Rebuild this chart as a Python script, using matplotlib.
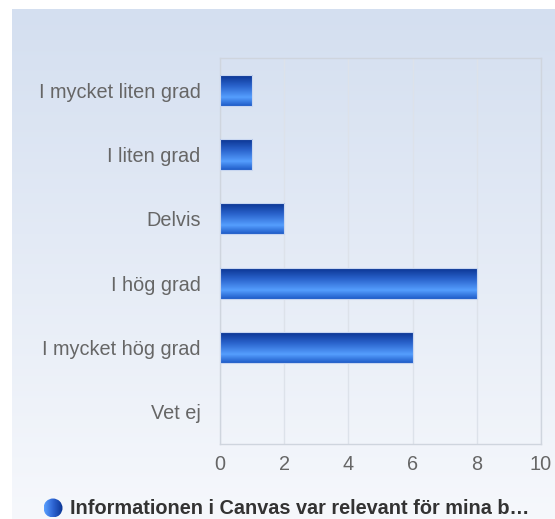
import numpy as np
import matplotlib
matplotlib.use("Agg")
import matplotlib.pyplot as plt
from matplotlib.colors import LinearSegmentedColormap
from matplotlib.patches import Circle

# data
categories = ["I mycket liten grad", "I liten grad", "Delvis", "I hög grad",
              "I mycket hög grad", "Vet ej"]
values = [1, 1, 2, 8, 6, 0]
xticks = [0, 2, 4, 6, 8, 10]
legend_label = "Informationen i Canvas var relevant för mina b…"

plt.rcParams['font.family'] = ['Liberation Sans', 'DejaVu Sans']

W, H = 555, 519
fig = plt.figure(figsize=(W / 100, H / 100), dpi=100)

# background panel with vertical gradient
bg = fig.add_axes([12 / W, 0, 1 - 12 / W, (H - 9) / H])
bg_cmap = LinearSegmentedColormap.from_list("bg", ["#d4dff0", "#f6f8fc"])
bg.imshow(np.linspace(0, 1, 256).reshape(-1, 1), cmap=bg_cmap, aspect="auto",
          extent=[0, 1, 0, 1])
bg.axis("off")

# main plot area
left, right, top, bottom = 220, 541, 58, 444
ax = fig.add_axes([left / W, 1 - bottom / H, (right - left) / W, (bottom - top) / H])
ax.patch.set_alpha(0)

bar_cmap = LinearSegmentedColormap.from_list(
    "bar", [(0, "#0b3593"), (0.35, "#2a63cc"), (0.72, "#559efe"), (1, "#1f5cc8")])
grad = np.linspace(0, 1, 64).reshape(-1, 1)
bh = 0.48
for i, v in enumerate(values):
    if v <= 0:
        continue
    ax.imshow(grad, cmap=bar_cmap, aspect="auto",
              extent=[0, v, i + bh / 2, i - bh / 2], zorder=3)
    ax.add_patch(plt.Rectangle((0, i - bh / 2), v, bh, fill=False,
                               edgecolor="#c8d6f0", linewidth=0.8, zorder=4))
ax.set_xlim(0, 10)
ax.set_ylim(len(categories) - 0.5, -0.5)

ax.set_xticks(xticks)
ax.set_xticklabels([str(t) for t in xticks])
ax.set_yticks(range(len(categories)))
ax.set_yticklabels(categories)
ax.tick_params(axis="both", length=0, labelsize=14.3, labelcolor="#666666")
ax.tick_params(axis="y", pad=14)
ax.tick_params(axis="x", pad=8)
ax.grid(axis="x", color="#dde2ea", linewidth=1, zorder=0)
for s in ax.spines.values():
    s.set_color("#cfd5de")
    s.set_linewidth(1)

# legend
lax = fig.add_axes([0, 0, 1, 1])
lax.set_xlim(0, W)
lax.set_ylim(H, 0)
lax.axis("off")
circ = Circle((53, 508), 9.5, transform=lax.transData)
leg_cmap = LinearSegmentedColormap.from_list("leg", ["#5aa0ff", "#2c62d0", "#0b3593"])
im = lax.imshow(np.linspace(0, 1, 64).reshape(1, -1), cmap=leg_cmap, aspect="auto",
                extent=[43.5, 62.5, 517.5, 498.5])
im.set_clip_path(circ)
lax.set_xlim(0, W)
lax.set_ylim(H, 0)
lax.text(70, 508, legend_label, fontsize=14.3, fontweight="bold", color="#333333",
         va="center", ha="left")

fig.savefig("out.png", dpi=100)
